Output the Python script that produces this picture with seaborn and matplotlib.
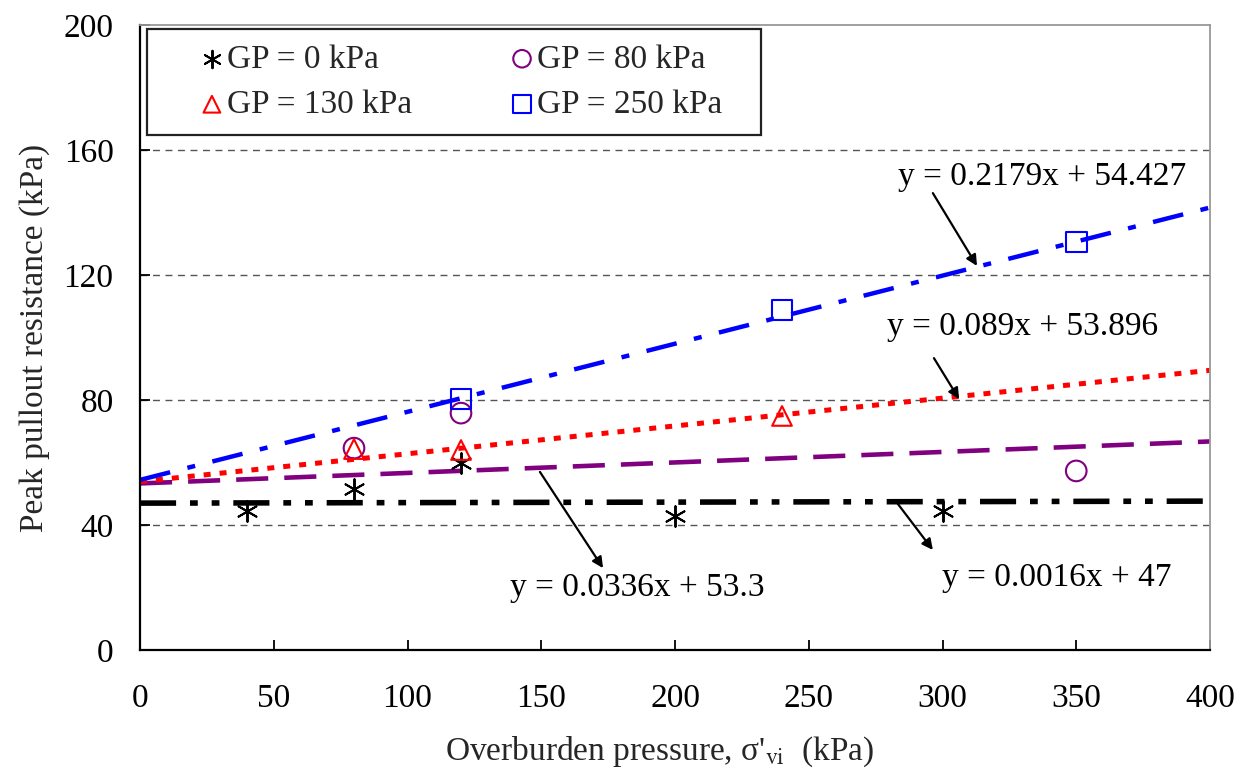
import numpy as np
import pandas as pd
import matplotlib
matplotlib.use("Agg")
import matplotlib.pyplot as plt
from matplotlib.patches import Rectangle
import seaborn as sns

# ---- data ----
gp0_x = [40, 80, 120, 200, 300]
gp0_y = [44.5, 51.5, 60.0, 43.0, 44.5]
gp80_x = [80, 120, 350]
gp80_y = [64.6, 75.8, 57.3]
gp130_x = [80, 120, 240]
gp130_y = [64.3, 64.0, 74.9]
gp250_x = [120, 240, 350]
gp250_y = [80.3, 108.8, 130.6]

labels = ["GP = 0 kPa", "GP = 80 kPa", "GP = 130 kPa", "GP = 250 kPa"]
slopes = [0.0016, 0.0336, 0.089, 0.2179]
intercepts = [47.0, 53.3, 53.896, 54.427]
eq_texts = ["y = 0.0016x + 47", "y = 0.0336x + 53.3",
            "y = 0.089x + 53.896", "y = 0.2179x + 54.427"]
x_ticks = [0, 50, 100, 150, 200, 250, 300, 350, 400]
y_ticks = [0, 40, 80, 120, 160, 200]

sns.set_theme(style="white")
plt.rcParams["font.family"] = ["Liberation Serif", "DejaVu Serif"]
plt.rcParams["mathtext.fontset"] = "stix"

FS = 24

fig = plt.figure(figsize=(12.46, 7.69), dpi=100)
ax = fig.add_axes([140/1246, 1-650/769, (1210-140)/1246, (650-25)/769])

# gridlines (dashed gray) at 40,80,120,160
for yv in y_ticks[1:-1]:
    ax.axhline(yv, color="#555555", lw=1.0, ls=(0, (5, 4)), zorder=0)

# trend lines
xs = np.array([0, 400])
line_styles = [
    dict(color="black", lw=4.0, ls=(0, (6.5, 2.5, 1.4, 2.5, 1.4, 2.5))),
    dict(color="#800080", lw=3.3, ls=(0, (7, 3.5))),
    dict(color="red", lw=3.6, ls=(0, (1.4, 1.8))),
    dict(color="blue", lw=3.2, ls=(0, (7, 4, 1.8, 4))),
]
for s, b, st in zip(slopes, intercepts, line_styles):
    df = pd.DataFrame({"x": xs, "y": s * xs + b})
    sns.lineplot(data=df, x="x", y="y", ax=ax, zorder=2, **st)

# markers
sns.scatterplot(x=gp0_x, y=gp0_y, ax=ax, marker=(6, 2, 0), s=220, color="black",
                linewidth=1.4, zorder=4, label=labels[0])
sns.scatterplot(x=gp80_x, y=gp80_y, ax=ax, marker="o", s=220, facecolor="none",
                edgecolor="#800080", linewidth=1.5, zorder=4, label=labels[1])
sns.scatterplot(x=gp130_x, y=gp130_y, ax=ax, marker="^", s=200, facecolor="none",
                edgecolor="red", linewidth=1.5, zorder=4, label=labels[2])
sns.scatterplot(x=gp250_x, y=gp250_y, ax=ax, marker="s", s=220, facecolor="none",
                edgecolor="blue", linewidth=1.5, zorder=4, label=labels[3])

# annotations (text position, arrow tail, arrow head)
ann = [
    (eq_texts[3], (283.4, 151.4), (296.4, 146.2), (312.9, 122.9)),
    (eq_texts[2], (279.2, 103.4), (296.8, 93.4), (306.2, 80.3)),
    (eq_texts[1], (138.3, 19.8), (149.5, 57.0), (173.1, 26.2)),
    (eq_texts[0], (299.8, 23.0), (282.2, 48.0), (296.4, 32.0)),
]
for txt, tp, tail, head in ann:
    ax.text(tp[0], tp[1], txt, fontsize=FS, ha="left", va="center", color="black")
    ax.annotate("", xy=head, xytext=tail,
                arrowprops=dict(arrowstyle="-|>", color="black", lw=1.6,
                                mutation_scale=16, shrinkA=0, shrinkB=0))

ax.set_xlim(0, 400)
ax.set_ylim(0, 200)
ax.set_xticks(x_ticks)
ax.set_yticks(y_ticks)
ax.tick_params(axis="both", direction="in", length=7, width=1.3, labelsize=FS,
               colors="black", bottom=True, left=True)
ax.tick_params(axis="x", pad=24)
ax.tick_params(axis="y", pad=19)
ax.set_xlabel("Overburden pressure, σ'$_{\\mathrm{vi}}$  (kPa)", fontsize=FS, labelpad=10)
ax.xaxis.set_label_coords(0.486, -0.135)
ax.set_ylabel("Peak pullout resistance (kPa)", fontsize=FS, labelpad=10)

for side in ["left", "bottom"]:
    ax.spines[side].set_color("black")
    ax.spines[side].set_linewidth(1.6)
for side in ["top", "right"]:
    ax.spines[side].set_color("#999999")
    ax.spines[side].set_linewidth(1.3)

# legend: row-major order (GP0, GP80 / GP130, GP250)
handles, labs = ax.get_legend_handles_labels()
order = [0, 2, 1, 3]
x0, x1 = (147-140)/1070, (761-140)/1070
y1, y0 = (650-29)/625, (650-135)/625
ax.add_patch(Rectangle((x0, y0), x1 - x0, y1 - y0, transform=ax.transAxes,
                       facecolor="white", edgecolor="#222222", lw=1.6, zorder=6))
leg = ax.legend([handles[i] for i in order], [labs[i] for i in order],
                loc="center", bbox_to_anchor=((x0 + x1) / 2 + 0.006, (y0 + y1) / 2), ncol=2,
                fontsize=FS, frameon=False, handletextpad=0.05, columnspacing=2.9,
                borderpad=0.0, labelspacing=0.45, handlelength=0.8,
                markerscale=0.85, borderaxespad=0)
leg.set_zorder(7)

fig.savefig("out.png", dpi=100)
